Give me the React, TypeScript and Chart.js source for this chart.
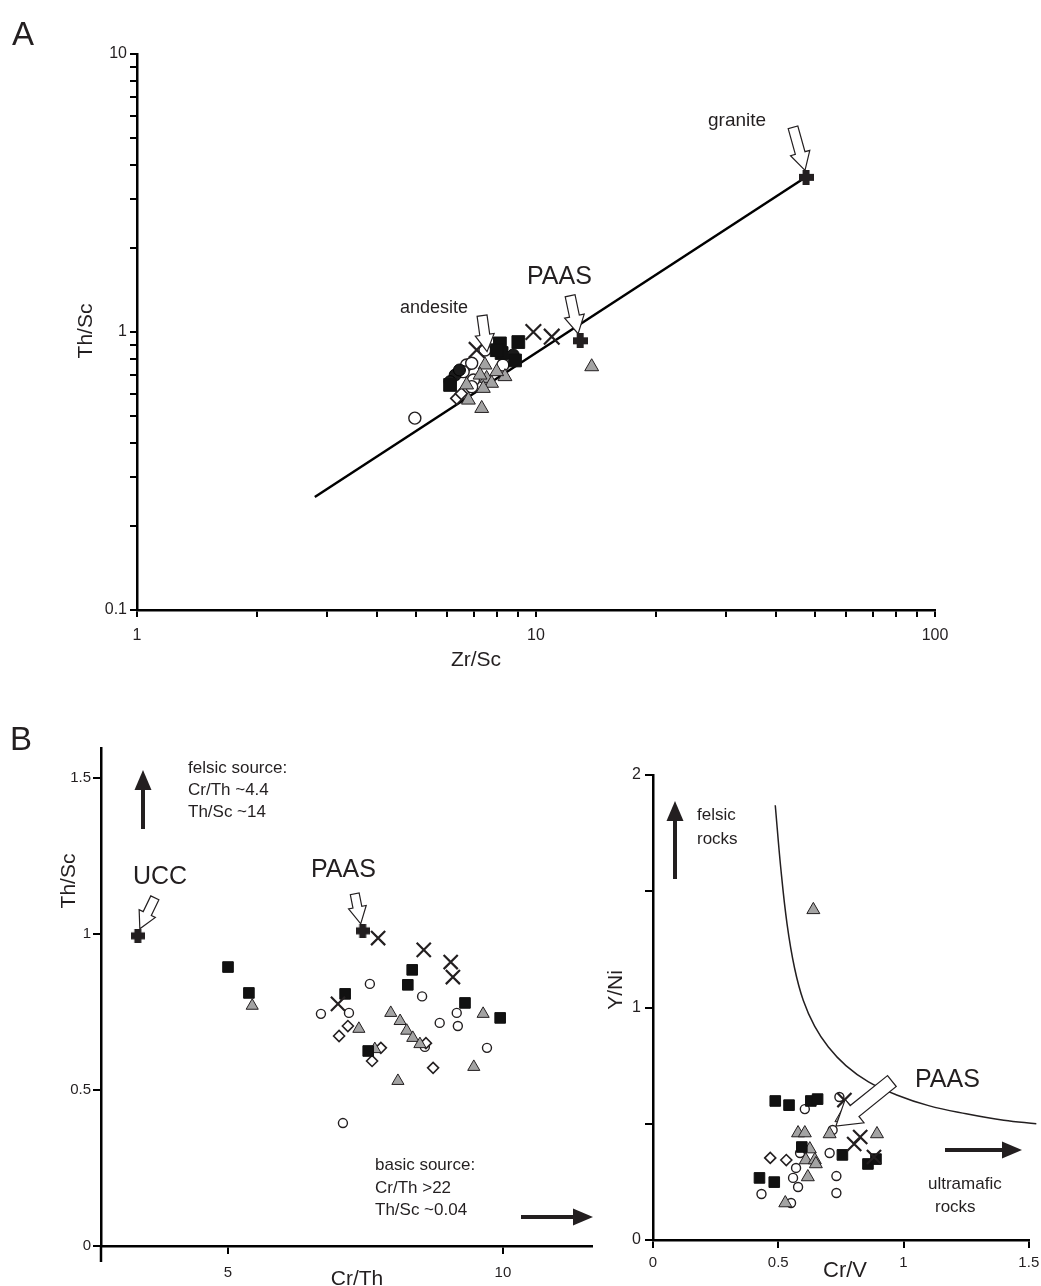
import React, { useEffect, useRef } from 'react';
import { Chart, registerables } from 'chart.js';
Chart.register(...registerables);

type P = [number, number];

// ---------- Panel A : Zr/Sc vs Th/Sc (log-log) ----------
const A_X_TICKS = [1, 2, 3, 4, 5, 6, 7, 8, 9, 10, 20, 30, 40, 50, 60, 70, 80, 90, 100];
const A_Y_TICKS = [0.1, 0.2, 0.3, 0.4, 0.5, 0.6, 0.7, 0.8, 0.9, 1, 2, 3, 4, 5, 6, 7, 8, 9, 10];
const A_LABELLED = [0.1, 1, 10, 100];
const A_SQUARES: P[] = [[8.12, 0.91], [9.03, 0.92], [8.86, 0.79], [8.2, 0.84], [6.09, 0.645], [7.97, 0.86]];
const A_DOTS: P[] = [[6.27, 0.7], [6.09, 0.663], [6.43, 0.73], [8.77, 0.827]];
const A_CIRCLES: P[] = [[4.97, 0.49], [6.7, 0.761], [6.9, 0.772], [6.97, 0.672], [6.57, 0.72], [8.26, 0.761], [7.45, 0.862], [6.9, 0.636]];
const A_DIAMONDS: P[] = [[6.33, 0.577], [6.5, 0.6]];
const A_TRIANGLES: P[] = [[13.79, 0.75], [7.31, 0.531], [6.77, 0.569], [7.45, 0.761], [7.52, 0.681], [7.74, 0.654], [8.36, 0.691], [7.97, 0.72], [6.7, 0.645], [7.38, 0.627], [7.24, 0.7]];
const A_CROSSES: P[] = [[7.1, 0.862], [9.85, 1.0], [10.95, 0.962]];
const A_GRANITE: P = [47.5, 3.6];
const A_PAAS: P = [12.9, 0.93];
const A_ANDESITE: P = [7.54, 0.85];
const A_TREND: P[] = [[2.79, 0.255], [47.5, 3.61]];

// ---------- Panel B (left) : Cr/Th vs Th/Sc ----------
const BL_X_TICKS = [5, 10];
const BL_Y_TICKS = [0, 0.5, 1, 1.5];
const BL_SQUARES: P[] = [[5.0, 0.894], [5.38, 0.811], [7.13, 0.808], [8.27, 0.837], [8.35, 0.885], [9.31, 0.779], [9.95, 0.731], [7.55, 0.625]];
const BL_CIRCLES: P[] = [[6.69, 0.744], [7.2, 0.747], [7.58, 0.84], [8.53, 0.8], [8.85, 0.715], [9.18, 0.705], [9.16, 0.747], [8.58, 0.638], [9.71, 0.635], [7.09, 0.394]];
const BL_DIAMONDS: P[] = [[7.02, 0.673], [7.18, 0.705], [7.78, 0.635], [7.62, 0.593], [8.73, 0.571], [8.6, 0.65]];
const BL_TRIANGLES: P[] = [[5.44, 0.77], [7.38, 0.696], [7.96, 0.747], [8.13, 0.721], [8.25, 0.69], [8.36, 0.667], [8.49, 0.647], [7.67, 0.631], [8.09, 0.529], [9.64, 0.744], [9.47, 0.574]];
const BL_CROSSES: P[] = [[7.73, 0.987], [8.56, 0.949], [9.05, 0.91], [9.09, 0.862], [7.0, 0.776]];
const BL_UCC: P = [3.36, 0.994];
const BL_PAAS: P = [7.45, 1.01];

// ---------- Panel B (right) : Cr/V vs Y/Ni ----------
const BR_X_TICKS = [0, 0.5, 1, 1.5];
const BR_Y_TICKS = [0, 0.5, 1, 1.5, 2];
const BR_Y_LABELLED = [0, 1, 2];
const BR_SQUARES: P[] = [[0.488, 0.598], [0.543, 0.58], [0.63, 0.598], [0.657, 0.606], [0.594, 0.4], [0.756, 0.366], [0.858, 0.327], [0.89, 0.348], [0.425, 0.267], [0.484, 0.249]];
const BR_CIRCLES: P[] = [[0.606, 0.563], [0.744, 0.615], [0.717, 0.473], [0.705, 0.374], [0.587, 0.374], [0.571, 0.31], [0.559, 0.267], [0.579, 0.228], [0.433, 0.198], [0.551, 0.159], [0.732, 0.275], [0.732, 0.202]];
const BR_DIAMONDS: P[] = [[0.468, 0.353], [0.532, 0.344]];
const BR_TRIANGLES: P[] = [[0.752, 0.525], [0.579, 0.46], [0.606, 0.46], [0.705, 0.456], [0.894, 0.456], [0.626, 0.391], [0.61, 0.344], [0.646, 0.344], [0.65, 0.327], [0.618, 0.271], [0.528, 0.159], [0.64, 1.42]];
const BR_CROSSES: P[] = [[0.764, 0.602], [0.827, 0.443], [0.803, 0.413], [0.882, 0.357]];
const BR_PAAS: P = [0.73, 0.49];
const BR_CURVE: P[] = [[0.488, 1.87], [0.51, 1.6], [0.535, 1.36], [0.565, 1.17], [0.6, 1.03], [0.645, 0.92], [0.7, 0.83], [0.77, 0.75], [0.86, 0.68], [0.97, 0.625], [1.1, 0.578], [1.25, 0.543], [1.4, 0.515], [1.53, 0.5]];

const W = 1041;
const H = 1286;
const INK = '#231f20';
const GREY = '#a3a3a3';
const SANS = "'Liberation Sans', Arial, sans-serif";
const NARROW = "'Liberation Sans Narrow', 'Liberation Sans', Arial, sans-serif";

const pts = (a: P[]) => a.map(([x, y]) => ({ x, y }));

function makePlus(size: number, arm: number): HTMLCanvasElement {
  const c = document.createElement('canvas');
  c.width = size;
  c.height = size;
  const g = c.getContext('2d')!;
  g.fillStyle = INK;
  const o = (size - arm) / 2;
  g.fillRect(0, o, size, arm);
  g.fillRect(o, 0, arm, size);
  return c;
}

function series(data: P[], kind: string, r: number, plus?: HTMLCanvasElement): any {
  const base: any = { data: pts(data), showLine: false, pointRadius: r, pointHoverRadius: r };
  switch (kind) {
    case 'square':
      return { ...base, pointStyle: 'rect', backgroundColor: '#111', borderColor: '#111', borderWidth: 1 };
    case 'dot':
      return { ...base, pointStyle: 'circle', backgroundColor: '#1a1a1a', borderColor: '#000', borderWidth: 1 };
    case 'circle':
      return { ...base, pointStyle: 'circle', backgroundColor: '#fff', borderColor: INK, borderWidth: 1.4 };
    case 'diamond':
      return { ...base, pointStyle: 'rectRot', backgroundColor: '#fff', borderColor: INK, borderWidth: 1.6 };
    case 'triangle':
      return { ...base, pointStyle: 'triangle', backgroundColor: GREY, borderColor: INK, borderWidth: 1 };
    case 'cross':
      return { ...base, pointStyle: 'crossRot', backgroundColor: INK, borderColor: INK, borderWidth: 2.2 };
    default:
      return { ...base, pointStyle: plus, backgroundColor: INK, borderColor: INK };
  }
}

function axis(o: {
  type: string; min: number; max: number; ticks: number[]; labelled: number[];
  horizontal: boolean; thick: number; tickLength: number; pad: number; font: any;
}): any {
  return {
    type: o.type,
    min: o.min,
    max: o.max,
    position: o.horizontal ? 'bottom' : 'left',
    afterBuildTicks: (s: any) => { s.ticks = o.ticks.map((v) => ({ value: v })); },
    afterFit: (s: any) => {
      if (o.horizontal) s.height = o.thick; else s.width = o.thick;
      s.paddingLeft = 0; s.paddingRight = 0; s.paddingTop = 0; s.paddingBottom = 0;
    },
    grid: { display: true, drawOnChartArea: false, drawTicks: true, tickLength: o.tickLength, tickWidth: 2, lineWidth: 2, color: '#000', tickColor: '#000' },
    border: { display: true, color: '#000', width: 2.5 },
    ticks: {
      autoSkip: false, maxRotation: 0, minRotation: 0, padding: o.pad, font: o.font, color: INK,
      callback: (v: any) => (o.labelled.some((l) => Math.abs(l - Number(v)) < 1e-9) ? String(Number(v)) : ''),
    },
    title: { display: false },
  };
}

function hollowArrow(ctx: CanvasRenderingContext2D, x0: number, y0: number, x1: number, y1: number, shaftW: number, headW: number, headL: number) {
  const dx = x1 - x0, dy = y1 - y0;
  const len = Math.hypot(dx, dy);
  const ux = dx / len, uy = dy / len;
  const nx = -uy, ny = ux;
  const bx = x1 - ux * headL, by = y1 - uy * headL;
  const s = shaftW / 2, h = headW / 2;
  ctx.beginPath();
  ctx.moveTo(x0 + nx * s, y0 + ny * s);
  ctx.lineTo(bx + nx * s, by + ny * s);
  ctx.lineTo(bx + nx * h, by + ny * h);
  ctx.lineTo(x1, y1);
  ctx.lineTo(bx - nx * h, by - ny * h);
  ctx.lineTo(bx - nx * s, by - ny * s);
  ctx.lineTo(x0 - nx * s, y0 - ny * s);
  ctx.closePath();
  ctx.fillStyle = '#fff';
  ctx.fill();
  ctx.strokeStyle = INK;
  ctx.lineWidth = 1.2;
  ctx.lineJoin = 'miter';
  ctx.stroke();
}

function solidArrow(ctx: CanvasRenderingContext2D, x0: number, y0: number, x1: number, y1: number, lw: number, headW: number, headL: number) {
  const dx = x1 - x0, dy = y1 - y0;
  const len = Math.hypot(dx, dy);
  const ux = dx / len, uy = dy / len;
  const nx = -uy, ny = ux;
  const bx = x1 - ux * headL, by = y1 - uy * headL;
  ctx.strokeStyle = INK;
  ctx.lineWidth = lw;
  ctx.lineCap = 'butt';
  ctx.beginPath();
  ctx.moveTo(x0, y0);
  ctx.lineTo(bx + ux * 1, by + uy * 1);
  ctx.stroke();
  ctx.fillStyle = INK;
  ctx.beginPath();
  ctx.moveTo(x1, y1);
  ctx.lineTo(bx + nx * headW / 2, by + ny * headW / 2);
  ctx.lineTo(bx - nx * headW / 2, by - ny * headW / 2);
  ctx.closePath();
  ctx.fill();
}

function text(ctx: CanvasRenderingContext2D, s: string, x: number, y: number, size: number, family = SANS, align: CanvasTextAlign = 'left', rot = 0) {
  ctx.save();
  ctx.fillStyle = INK;
  ctx.font = `${size}px ${family}`;
  ctx.textAlign = align;
  ctx.textBaseline = 'middle';
  ctx.translate(x, y);
  if (rot) ctx.rotate(rot);
  ctx.fillText(s, 0, 0);
  ctx.restore();
}

const px = (c: any, p: P): [number, number] => [c.scales.x.getPixelForValue(p[0]), c.scales.y.getPixelForValue(p[1])];

function baseOptions(padding: any, scales: any): any {
  return {
    responsive: false,
    animation: false,
    events: [],
    layout: { padding },
    plugins: { legend: { display: false }, tooltip: { enabled: false } },
    scales,
  };
}

export default function App() {
  const refA = useRef<HTMLCanvasElement>(null);
  const refL = useRef<HTMLCanvasElement>(null);
  const refR = useRef<HTMLCanvasElement>(null);

  useEffect(() => {
    const plusA = makePlus(15, 7);
    const plusB = makePlus(14, 7);

    // Panel A chart area: left 137, top 54, right 935, bottom 610
    const chartA = new Chart(refA.current!, {
      type: 'scatter',
      data: {
        datasets: [
          series([A_GRANITE, A_PAAS], 'plus', 7, plusA),
          series(A_CROSSES, 'cross', 11),
          series(A_SQUARES, 'square', 9),
          series(A_DOTS, 'dot', 6),
          series(A_TRIANGLES, 'triangle', 8),
          series(A_DIAMONDS, 'diamond', 6),
          series(A_CIRCLES, 'circle', 6),
          { data: pts(A_TREND), showLine: true, pointRadius: 0, borderColor: '#000', borderWidth: 2.5, fill: false },
        ],
      },
      options: baseOptions(
        { left: 87, top: 54, right: W - 935, bottom: H - 610 - 40 },
        {
          x: axis({ type: 'logarithmic', min: 1, max: 100, ticks: A_X_TICKS, labelled: A_LABELLED, horizontal: true, thick: 40, tickLength: 7, pad: 9, font: { family: NARROW, size: 16 } }),
          y: axis({ type: 'logarithmic', min: 0.1, max: 10, ticks: A_Y_TICKS, labelled: A_LABELLED, horizontal: false, thick: 50, tickLength: 7, pad: 3, font: { family: NARROW, size: 16 } }),
        },
      ),
      plugins: [{
        id: 'decorA',
        afterDraw: (c: any) => {
          const ctx = c.ctx;
          text(ctx, 'A', 12, 36, 33);
          const g = px(c, A_GRANITE);
          hollowArrow(ctx, g[0] - 13, g[1] - 50, g[0] - 1, g[1] - 7, 10, 20, 18);
          text(ctx, 'granite', 708, 121, 19);
          const p = px(c, A_PAAS);
          hollowArrow(ctx, p[0] - 10, p[1] - 45, p[0] - 2, p[1] - 7, 10, 20, 18);
          text(ctx, 'PAAS', 527, 277, 25);
          const a = px(c, A_ANDESITE);
          hollowArrow(ctx, a[0] - 5, a[1] - 36, a[0], a[1], 10, 19, 17);
          text(ctx, 'andesite', 400, 308, 18);
          text(ctx, 'Th/Sc', 86, 331, 21, NARROW, 'center', -Math.PI / 2);
          text(ctx, 'Zr/Sc', 476, 660, 21, NARROW, 'center');
        },
      }],
    } as any);

    // Panel B left chart area: left 101, top 748, right 592, bottom 1246
    const chartL = new Chart(refL.current!, {
      type: 'scatter',
      data: {
        datasets: [
          series([BL_UCC, BL_PAAS], 'plus', 7, plusB),
          series(BL_CROSSES, 'cross', 10),
          series(BL_SQUARES, 'square', 7.5),
          series(BL_TRIANGLES, 'triangle', 7),
          series(BL_DIAMONDS, 'diamond', 5.5),
          series(BL_CIRCLES, 'circle', 4.5),
        ],
      },
      options: baseOptions(
        { left: 51, top: 748, right: W - 592, bottom: 0 },
        {
          x: axis({ type: 'linear', min: 2.69, max: 11.62, ticks: BL_X_TICKS, labelled: BL_X_TICKS, horizontal: true, thick: 40, tickLength: 8, pad: 10, font: { family: SANS, size: 15 } }),
          y: axis({ type: 'linear', min: 0, max: 1.596, ticks: BL_Y_TICKS, labelled: BL_Y_TICKS, horizontal: false, thick: 50, tickLength: 8, pad: 2, font: { family: SANS, size: 15 } }),
        },
      ),
      plugins: [{
        id: 'decorL',
        afterDraw: (c: any) => {
          const ctx = c.ctx;
          text(ctx, 'B', 10, 741, 33);
          ctx.strokeStyle = '#000';
          ctx.lineWidth = 2.5;
          ctx.beginPath();
          ctx.moveTo(c.chartArea.left, c.chartArea.bottom);
          ctx.lineTo(c.chartArea.left, c.chartArea.bottom + 16);
          ctx.stroke();
          solidArrow(ctx, 143, 829, 143, 770, 4, 17, 20);
          text(ctx, 'felsic source:', 188, 768, 17);
          text(ctx, 'Cr/Th ~4.4', 188, 790, 17);
          text(ctx, 'Th/Sc ~14', 188, 812, 17);
          const u = px(c, BL_UCC);
          hollowArrow(ctx, u[0] + 17, u[1] - 38, u[0] + 2, u[1] - 7, 9, 18, 17);
          text(ctx, 'UCC', 133, 877, 25);
          const p = px(c, BL_PAAS);
          hollowArrow(ctx, p[0] - 8, p[1] - 37, p[0] - 2, p[1] - 7, 9, 18, 17);
          text(ctx, 'PAAS', 311, 870, 25);
          text(ctx, 'basic source:', 375, 1165, 17);
          text(ctx, 'Cr/Th >22', 375, 1188, 17);
          text(ctx, 'Th/Sc ~0.04', 375, 1210, 17);
          solidArrow(ctx, 521, 1217, 593, 1217, 4, 17, 20);
          text(ctx, 'Th/Sc', 69, 881, 21, SANS, 'center', -Math.PI / 2);
          text(ctx, 'Cr/Th', 357, 1279, 21, SANS, 'center');
        },
      }],
    } as any);

    // Panel B right chart area: left 653, top 775, right 1033, bottom 1240
    const chartR = new Chart(refR.current!, {
      type: 'scatter',
      data: {
        datasets: [
          series(BR_CROSSES, 'cross', 10),
          series(BR_SQUARES, 'square', 7.5),
          series(BR_TRIANGLES, 'triangle', 7.5),
          series(BR_DIAMONDS, 'diamond', 5.5),
          series(BR_CIRCLES, 'circle', 4.5),
          { data: pts(BR_CURVE), showLine: true, pointRadius: 0, borderColor: INK, borderWidth: 1.5, fill: false, tension: 0.4, clip: false },
        ],
      },
      options: baseOptions(
        { left: 623, top: 775, right: W - 1033, bottom: H - 1240 - 40 },
        {
          x: axis({ type: 'linear', min: 0, max: 1.5, ticks: BR_X_TICKS, labelled: BR_X_TICKS, horizontal: true, thick: 40, tickLength: 8, pad: 6, font: { family: SANS, size: 15 } }),
          y: axis({ type: 'linear', min: 0, max: 2, ticks: BR_Y_TICKS, labelled: BR_Y_LABELLED, horizontal: false, thick: 30, tickLength: 8, pad: 4, font: { family: SANS, size: 16 } }),
        },
      ),
      plugins: [{
        id: 'decorR',
        afterDraw: (c: any) => {
          const ctx = c.ctx;
          solidArrow(ctx, 675, 879, 675, 801, 4, 17, 20);
          text(ctx, 'felsic', 697, 815, 17);
          text(ctx, 'rocks', 697, 839, 17);
          const p = px(c, BR_PAAS);
          hollowArrow(ctx, p[0] + 56, p[1] - 45, p[0], p[1], 14, 30, 24);
          text(ctx, 'PAAS', 915, 1080, 25);
          solidArrow(ctx, 945, 1150, 1022, 1150, 4, 17, 20);
          text(ctx, 'ultramafic', 928, 1184, 17);
          text(ctx, 'rocks', 935, 1207, 17);
          text(ctx, 'Y/Ni', 616, 990, 21, SANS, 'center', -Math.PI / 2);
          text(ctx, 'Cr/V', 845, 1271, 22, SANS, 'center');
        },
      }],
    } as any);

    return () => {
      chartA.destroy();
      chartL.destroy();
      chartR.destroy();
    };
  }, []);

  const cs: React.CSSProperties = { position: 'absolute', left: 0, top: 0 };
  return (
    <div style={{ position: 'absolute', left: 0, top: 0, width: W, height: H, background: '#fff' }}>
      <canvas ref={refA} width={W} height={H} style={cs} />
      <canvas ref={refL} width={W} height={H} style={cs} />
      <canvas ref={refR} width={W} height={H} style={cs} />
    </div>
  );
}
